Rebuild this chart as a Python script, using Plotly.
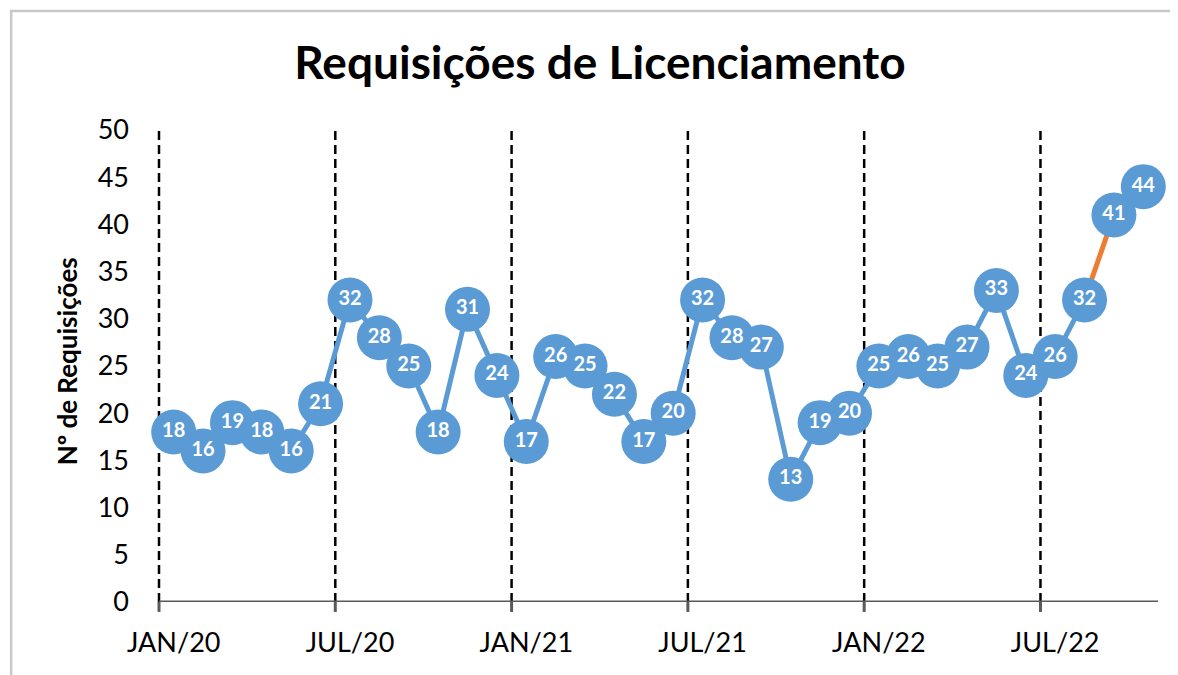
import plotly.graph_objects as go

months = ["JAN/20","FEV/20","MAR/20","ABR/20","MAI/20","JUN/20",
          "JUL/20","AGO/20","SET/20","OUT/20","NOV/20","DEZ/20",
          "JAN/21","FEV/21","MAR/21","ABR/21","MAI/21","JUN/21",
          "JUL/21","AGO/21","SET/21","OUT/21","NOV/21","DEZ/21",
          "JAN/22","FEV/22","MAR/22","ABR/22","MAI/22","JUN/22",
          "JUL/22","AGO/22","SET/22","OUT/22"]
requisicoes = [18,16,19,18,16,21,
               32,28,25,18,31,24,
               17,26,25,22,17,20,
               32,28,27,13,19,20,
               25,26,25,27,33,24,
               26,32,41,44]
tick_labels = ["JAN/20","JUL/20","JAN/21","JUL/21","JAN/22","JUL/22"]
n_blue = 32  # points joined by the blue line (up to AGO/22)

BLUE = "#5B9BD5"
ORANGE = "#ED7D31"
FONT = "Lato, 'Open Sans', sans-serif"

fig = go.Figure()
fig.add_trace(go.Scatter(x=months[:n_blue], y=requisicoes[:n_blue], mode="lines",
                         line=dict(color=BLUE, width=5), hoverinfo="skip", showlegend=False,
                         cliponaxis=False))
fig.add_trace(go.Scatter(x=months[n_blue-1:], y=requisicoes[n_blue-1:], mode="lines",
                         line=dict(color=ORANGE, width=5), hoverinfo="skip", showlegend=False,
                         cliponaxis=False))
fig.add_trace(go.Scatter(x=months, y=requisicoes, mode="markers+text",
                         marker=dict(size=45, color=BLUE, line=dict(width=0)),
                         text=[str(v) for v in requisicoes], textposition="middle center",
                         textfont=dict(family=FONT, size=20, color="white", weight="bold"),
                         showlegend=False, cliponaxis=False))

n = len(months)
shapes = []
for lbl in tick_labels:
    px = months.index(lbl) / n  # category boundary, in plot-area fraction
    shapes.append(dict(type="line", xref="paper", yref="y", x0=px, x1=px, y0=0, y1=50,
                       line=dict(color="black", width=2.5, dash="9px,5px"), layer="below"))
    shapes.append(dict(type="line", xref="paper", yref="paper", x0=px, x1=px, y0=0, y1=-0.021,
                       line=dict(color="#595959", width=3), layer="above"))
# chart border
shapes.append(dict(type="rect", xref="paper", yref="paper", x0=-0.148, x1=1.2, y0=-0.4, y1=1.252,
                   line=dict(color="#C8C8C8", width=2.5), layer="below"))
# x axis baseline
shapes.append(dict(type="line", xref="paper", yref="y", x0=0, x1=1, y0=0, y1=0,
                   line=dict(color="#595959", width=3), layer="below"))

fig.update_layout(
    width=1170, height=667,
    margin=dict(l=151, r=20, t=122, b=73),
    paper_bgcolor="white", plot_bgcolor="white",
    title=dict(text="<b>Requisições de Licenciamento</b>", x=0.506, xanchor="center",
               y=0.9175, yanchor="middle", font=dict(family=FONT, size=46, color="black")),
    xaxis=dict(type="category", categoryorder="array", categoryarray=months,
               range=[-0.5, n - 0.5], tickvals=tick_labels, ticktext=tick_labels,
               showgrid=False, zeroline=False, showline=False, ticks="",
               tickfont=dict(family=FONT, size=27, color="black"), ticklabelstandoff=22),
    yaxis=dict(range=[0, 50], dtick=5, showgrid=False, zeroline=False, showline=False,
               ticks="", tickfont=dict(family=FONT, size=27, color="black"),
               ticklabelstandoff=29),
    shapes=shapes,
    annotations=[dict(text="<b>Nº de Requisições</b>", textangle=-90, xref="paper", yref="paper",
                      x=-0.092, y=0.51, xanchor="center", yanchor="middle", showarrow=False,
                      font=dict(family=FONT, size=26, color="black"))],
)

fig.write_html("out.html")
